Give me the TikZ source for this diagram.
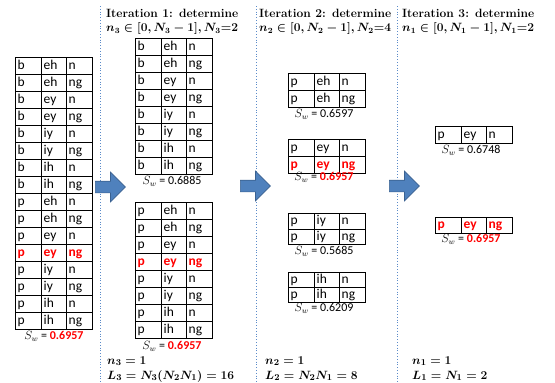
\documentclass[tikz,border=0pt]{standalone}
\usepackage{fontspec}
\newfontfamily\carlito{Carlito}
\usetikzlibrary{shapes.arrows}
\definecolor{arrowfill}{HTML}{4F81BD}
\definecolor{arrowline}{HTML}{3A6190}
\definecolor{sepblue}{HTML}{5B8BC9}
\tikzset{
  cellbox/.style={draw=black, line width=1.4pt, anchor=north west, minimum height=17pt,
    inner xsep=2pt, inner ysep=0pt, align=left,
    font=\carlito\fontsize{13.5}{13.5}\selectfont, text height=9pt, text depth=2.5pt},
  hot/.style={text=red, font=\carlito\bfseries\fontsize{13.5}{13.5}\selectfont},
  score/.style={anchor=center, inner sep=0pt, font=\carlito\fontsize{12}{13}\selectfont,
    text height=7pt, text depth=2pt},
  ttl/.style={anchor=west, inner sep=0pt, font=\bfseries\boldmath\fontsize{12}{13}\selectfont,
    text height=8pt, text depth=2pt},
  btm/.style={anchor=west, inner sep=0pt, font=\bfseries\boldmath\fontsize{12.5}{13}\selectfont,
    text height=8pt, text depth=2pt},
  sepline/.style={sepblue, dotted, line width=0.8pt},
  bigarrow/.style={single arrow, fill=arrowfill, draw=arrowline, line width=0.7pt,
    minimum height=30pt, minimum width=29pt, single arrow head extend=9pt,
    single arrow tip angle=90, inner xsep=0pt, inner ysep=5.5pt, anchor=west}
}
\newcommand\trow[7][]{%
  \node[cellbox,#1,text width=22pt] (#2a) at (#3,#4) {#5};
  \node[cellbox,#1,text width=21pt] (#2b) at ({#3+26},#4) {#6};
  \node[cellbox,#1,text width=22pt] (#2c) at ({#3+51},#4) {#7};
}
\newcommand\hotval[1]{\textcolor{red}{\bfseries #1}}
\begin{document}
\begin{tikzpicture}[x=1pt,y=-1pt]
\useasboundingbox (0,0) rectangle (555,383);
% separators
\coordinate (s1t) at (100,6); \coordinate (s1b) at (100,383);
\coordinate (s2t) at (256,6); \coordinate (s2b) at (256,383);
\coordinate (s3t) at (397,6); \coordinate (s3b) at (397,383);
\draw[sepline] (s1t) -- (s1b);
\draw[sepline] (s2t) -- (s2b);
\draw[sepline] (s3t) -- (s3b);
% titles
\node[ttl] (t1a) at (106,14.5) {Iteration 1: determine};
\node[ttl] (t1b) at (106,28.5) {$n_3\in[0,N_3-1],N_3$=2};
\node[ttl] (t2a) at (259,14.5) {Iteration 2: determine};
\node[ttl] (t2b) at (259,28.5) {$n_2\in[0,N_2-1],N_2$=4};
\node[ttl] (t3a) at (402,14.5) {Iteration 3: determine};
\node[ttl] (t3b) at (402,28.5) {$n_1\in[0,N_1-1],N_1$=2};
% left table
\trow{La}{15}{57}{b}{eh}{n}
\trow{Lb}{15}{74}{b}{eh}{ng}
\trow{Lc}{15}{91}{b}{ey}{n}
\trow{Ld}{15}{108}{b}{ey}{ng}
\trow{Le}{15}{125}{b}{iy}{n}
\trow{Lf}{15}{142}{b}{iy}{ng}
\trow{Lg}{15}{159}{b}{ih}{n}
\trow{Lh}{15}{176}{b}{ih}{ng}
\trow{Li}{15}{193}{p}{eh}{n}
\trow{Lj}{15}{210}{p}{eh}{ng}
\trow{Lk}{15}{227}{p}{ey}{n}
\trow[hot]{Ll}{15}{244}{p}{ey}{ng}
\trow{Lm}{15}{261}{p}{iy}{n}
\trow{Ln}{15}{278}{p}{iy}{ng}
\trow{Lo}{15}{295}{p}{ih}{n}
\trow{Lp}{15}{312}{p}{ih}{ng}
\node[score] (sL) at (54,337) {$S_w$ = \hotval{0.6957}};
% iteration 1
\trow{Aa}{135}{38}{b}{eh}{n}
\trow{Ab}{135}{55}{b}{eh}{ng}
\trow{Ac}{135}{72}{b}{ey}{n}
\trow{Ad}{135}{89}{b}{ey}{ng}
\trow{Ae}{135}{106}{b}{iy}{n}
\trow{Af}{135}{123}{b}{iy}{ng}
\trow{Ag}{135}{140}{b}{ih}{n}
\trow{Ah}{135}{157}{b}{ih}{ng}
\node[score] (sA) at (172,182) {$S_w$ = 0.6885};
\trow{Ba}{135}{202}{p}{eh}{n}
\trow{Bb}{135}{219}{p}{eh}{ng}
\trow{Bc}{135}{236}{p}{ey}{n}
\trow[hot]{Bd}{135}{253}{p}{ey}{ng}
\trow{Be}{135}{270}{p}{iy}{n}
\trow{Bf}{135}{287}{p}{iy}{ng}
\trow{Bg}{135}{304}{p}{ih}{n}
\trow{Bh}{135}{321}{p}{ih}{ng}
\node[score] (sB) at (172,347) {$S_w$ = \hotval{0.6957}};
\node[btm] (n3) at (107,361) {$n_3=1$};
\node[btm] (L3) at (107,376) {$L_3=N_3(N_2N_1)=16$};
% iteration 2
\trow{Ca}{288}{73}{p}{eh}{n}
\trow{Cb}{288}{90}{p}{eh}{ng}
\node[score] (sC) at (324,115) {$S_w$ = 0.6597};
\trow{Da}{288}{139}{p}{ey}{n}
\trow[hot]{Db}{288}{156}{p}{ey}{ng}
\node[score] (sD) at (324,178) {$S_w$ = \hotval{0.6957}};
\trow[minimum height=15.5pt]{Ea}{288}{213}{p}{iy}{n}
\trow[minimum height=15.5pt]{Eb}{288}{228.5}{p}{iy}{ng}
\node[score] (sE) at (324,252) {$S_w$ = 0.5685};
\trow[minimum height=15pt]{Fa}{288}{272}{p}{ih}{n}
\trow[minimum height=15pt]{Fb}{288}{287}{p}{ih}{ng}
\node[score] (sF) at (324,309) {$S_w$ = 0.6209};
\node[btm] (n2) at (265,361) {$n_2=1$};
\node[btm] (L2) at (265,376) {$L_2=N_2N_1=8$};
% iteration 3
\trow{Ga}{435}{126}{p}{ey}{n}
\node[score] (sG) at (471,151) {$S_w$ = 0.6748};
\trow[hot,minimum height=16pt]{Ha}{435}{217}{p}{ey}{ng}
\node[score] (sH) at (471,240) {$S_w$ = \hotval{0.6957}};
\node[btm] (n1) at (412,361) {$n_1=1$};
\node[btm] (L1) at (412,376) {$L_1=N_1=2$};
% arrows
\node[bigarrow] (ar1) at (95,187) {};
\node[bigarrow] (ar2) at (240,186) {};
\node[bigarrow] (ar3) at (389,186) {};
\end{tikzpicture}
\end{document}
